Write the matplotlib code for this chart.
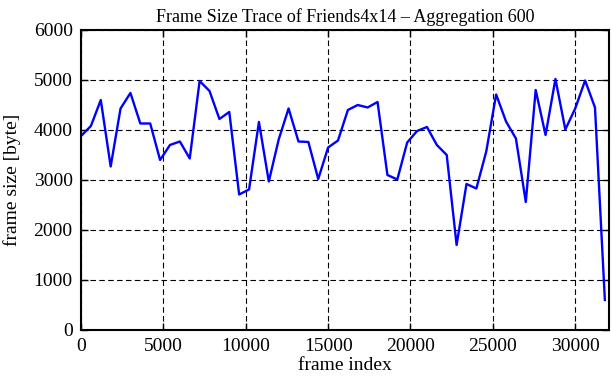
import matplotlib
matplotlib.use('Agg')
import matplotlib.pyplot as plt
import numpy as np

### DATA (aggregation 600 frames)
frame_index = np.arange(0, 31801, 600)
frame_size  = [3880, 4080, 4600, 3270, 4430, 4740, 4130, 4130, 3400, 3700,
               3770, 3430, 4980, 4780, 4220, 4360, 2710, 2810, 4160, 2970,
               3810, 4430, 3770, 3760, 3020, 3650, 3790, 4400, 4500, 4450,
               4560, 3100, 3010, 3750, 3980, 4060, 3700, 3500, 1700, 2920,
               2830, 3570, 4710, 4170, 3830, 2560, 4800, 3900, 5020, 4010,
               4430, 4990, 4450, 600]
x_ticks = [0, 5000, 10000, 15000, 20000, 25000, 30000]
y_ticks = [0, 1000, 2000, 3000, 4000, 5000, 6000]

plt.rcParams['font.family'] = ['Liberation Serif', 'DejaVu Serif']

### PLOT
fig = plt.figure(figsize=(6.11, 3.80), dpi=100)
ax  = fig.add_axes([0.1326, 0.1316, 0.8641, 0.7895])
ax.plot(frame_index, frame_size, color='#0000ff', lw=1.7)

ax.set_xlim(0, 32050)
ax.set_ylim(0, 6000)
ax.set_xticks(x_ticks)
ax.set_yticks(y_ticks)
ax.grid(True, color='black', lw=0.8, ls=(0, (5, 3)))
ax.tick_params(direction='in', top=True, right=True, length=5, width=1,
               labelsize=14, pad=6)
for s in ax.spines.values():
    s.set_linewidth(1.5)

ax.set_xlabel('frame index', fontsize=14, labelpad=1)
ax.set_ylabel('frame size [byte]', fontsize=14, labelpad=9)
ax.set_title('Frame Size Trace of Friends4x14 \u2013 Aggregation 600', fontsize=13, pad=6)

fig.savefig('out.png', dpi=100)
